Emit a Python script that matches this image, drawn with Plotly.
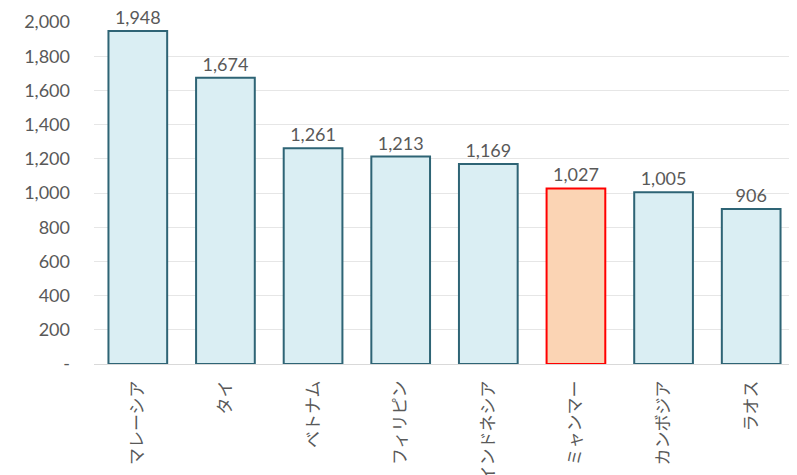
import plotly.graph_objects as go

categories = ["マレーシア", "タイ", "ベトナム", "フィリピン", "インドネシア", "ミャンマー", "カンボジア", "ラオス"]
values = [1948, 1674, 1261, 1213, 1169, 1027, 1005, 906]
highlight = "ミャンマー"
tick_vals = [0, 200, 400, 600, 800, 1000, 1200, 1400, 1600, 1800, 2000]
tick_text = ["-", "200", "400", "600", "800", "1,000", "1,200", "1,400", "1,600", "1,800", "2,000"]

fills = ["#FBD4B4" if c == highlight else "#DAEEF3" for c in categories]
lines = ["#FF0000" if c == highlight else "#2E6475" for c in categories]

font_fam = "Lato, 'Noto Sans CJK JP', sans-serif"

fig = go.Figure(go.Bar(
    x=categories, y=values,
    marker=dict(color=fills, line=dict(color=lines, width=2)),
    width=0.67,
    text=[f"{v:,}" for v in values],
    textposition="outside",
    textfont=dict(size=18, color="#595959", family=font_fam),
    cliponaxis=False,
))

fig.update_layout(
    width=797, height=475,
    margin=dict(l=86, r=10, t=14, b=119),
    paper_bgcolor="white", plot_bgcolor="white",
    showlegend=False,
    font=dict(family=font_fam, color="#595959"),
    bargap=0.33,
)
fig.update_yaxes(range=[0, 2000], tickvals=tick_vals, ticktext=tick_text,
                 showgrid=True, gridcolor="#E6E6E6", gridwidth=1,
                 tickfont=dict(size=18, color="#595959"), ticks="", ticklabelstandoff=23,
                 zeroline=True, zerolinecolor="#D9D9D9", zerolinewidth=1,
                 automargin=False)
fig.update_xaxes(tickangle=-90, tickfont=dict(size=17, color="#595959",
                 family="'Noto Sans CJK JP', sans-serif"), showline=False,
                 ticks="", ticklabelstandoff=12, automargin=False)

fig.write_html("out.html")
